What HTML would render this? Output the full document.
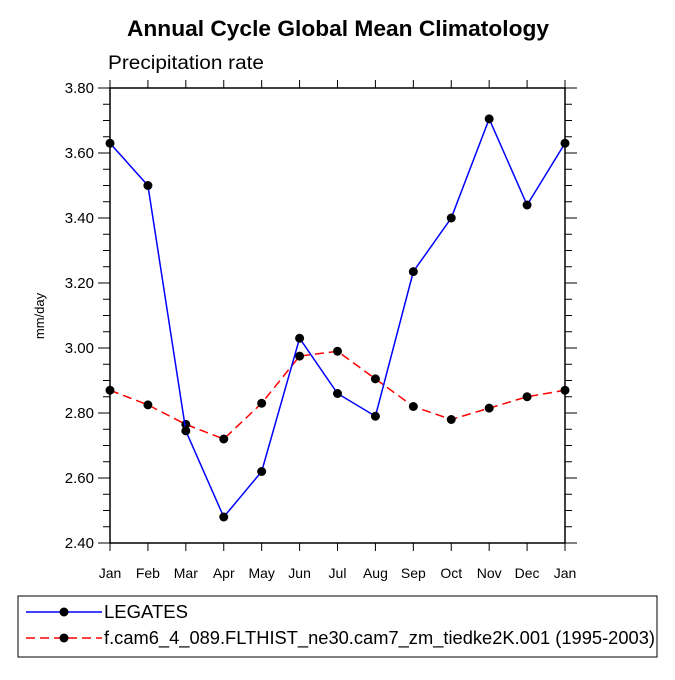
<!DOCTYPE html>
<html><head><meta charset="utf-8"><style>
body{margin:0;background:#fff;}
svg text{font-family:"Liberation Sans",Arial,sans-serif;}
</style></head><body>
<svg width="675" height="675" viewBox="0 0 675 675" xmlns="http://www.w3.org/2000/svg">
<text x="127" y="36" textLength="422" lengthAdjust="spacingAndGlyphs" font-size="22" font-weight="bold">Annual Cycle Global Mean Climatology</text>
<text x="108" y="69" textLength="156" lengthAdjust="spacingAndGlyphs" font-size="19">Precipitation rate</text>
<text transform="translate(44,316) rotate(-90)" text-anchor="middle" font-size="13">mm/day</text>
<g id="axes"></g>
<g id="series"></g>
<rect x="18" y="596" width="639" height="61" fill="none" stroke="#000" stroke-width="1"/>
<g>
<line x1="26" y1="612" x2="102" y2="612" stroke="#00f" stroke-width="1.5"/>
<circle cx="64" cy="612" r="4.5" fill="#000"/>
<text x="104" y="618" textLength="84" lengthAdjust="spacingAndGlyphs" font-size="18">LEGATES</text>
</g>
<g>
<line x1="26" y1="638" x2="102" y2="638" stroke="#f00" stroke-width="1.5" stroke-dasharray="9,5"/>
<circle cx="64" cy="638" r="4.5" fill="#000"/>
<text x="104" y="644" textLength="551" lengthAdjust="spacingAndGlyphs" font-size="18">f.cam6_4_089.FLTHIST_ne30.cam7_zm_tiedke2K.001 (1995-2003)</text>
</g>
</svg>
<script>
const months=["Jan","Feb","Mar","Apr","May","Jun","Jul","Aug","Sep","Oct","Nov","Dec","Jan"];
const legates=[3.63,3.50,2.745,2.48,2.62,3.03,2.86,2.79,3.235,3.40,3.705,3.44,3.63];
const model=[2.87,2.825,2.765,2.72,2.83,2.975,2.99,2.905,2.82,2.78,2.815,2.85,2.87];
const yTicks=["2.40","2.60","2.80","3.00","3.20","3.40","3.60","3.80"];
const X0=110,X1=565,Y0=543,Y1=88,YMIN=2.4,YMAX=3.8;
const NS="http://www.w3.org/2000/svg";
function xs(i){return X0+(X1-X0)*i/(months.length-1);}
function ys(v){return Y0-(v-YMIN)/(YMAX-YMIN)*(Y0-Y1);}
function mk(tag,attrs,parent){const e=document.createElementNS(NS,tag);for(const k in attrs)e.setAttribute(k,attrs[k]);parent.appendChild(e);return e;}
const ax=document.getElementById('axes');
const frame=mk('rect',{x:X0,y:Y1,width:X1-X0,height:Y0-Y1,fill:'none',stroke:'#000','stroke-width':1.5},ax);


for(let v=YMIN;v<=YMAX+1e-9;v+=0.05){
  const y=ys(v);const major=Math.abs(Math.round(v*5)-v*5)<1e-6;const L=major?12:7;
  const t1=mk('line',{x1:X0-L,y1:y,x2:X0,y2:y,stroke:'#000','stroke-width':1},ax);
  
  
  const t2=mk('line',{x1:X1,y1:y,x2:X1+L,y2:y,stroke:'#000','stroke-width':1},ax);
  
  
}
yTicks.forEach(s=>{
  const t=mk('text',{x:X0-16,y:ys(parseFloat(s))+5,'text-anchor':'end','font-size':15},ax);t.textContent=s;
  
  
});
months.forEach((m,i)=>{
  const x=xs(i);
  const a=mk('line',{x1:x,y1:Y0,x2:x,y2:Y0+8,stroke:'#000','stroke-width':1},ax);
  
  
  const b=mk('line',{x1:x,y1:Y1-8,x2:x,y2:Y1,stroke:'#000','stroke-width':1},ax);
  
  
  const t=mk('text',{x:x,y:Y0+35,'text-anchor':'middle','font-size':14},ax);t.textContent=m;
  
  
});
const sg=document.getElementById('series');
function draw(vals,color,dash,name){
  const pts=vals.map((v,i)=>xs(i)+','+ys(v)).join(' ');
  const pl=mk('polyline',{points:pts,fill:'none',stroke:color,'stroke-width':1.5,'stroke-dasharray':dash},sg);
  
  
  vals.forEach((v,i)=>{
    const c=mk('circle',{cx:xs(i),cy:ys(v),r:4.5,fill:'#000'},sg);
    
    
  });
}
draw(model,'#f00','9,5','model');
draw(legates,'#00f','none','legates');
</script>
</body></html>
